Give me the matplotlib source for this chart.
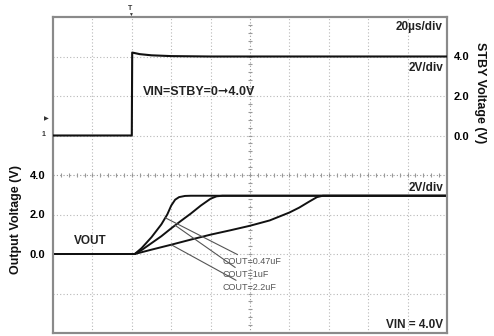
import numpy as np
import matplotlib
matplotlib.use('Agg')
import matplotlib.pyplot as plt

plt.rcParams['font.family'] = ['Liberation Sans', 'DejaVu Sans']

#%% Scope traces (time in us, voltage in V)
t_stby = [0, 40, 40.2, 44, 50, 60, 80, 200]
v_stby = [0, 0, 4.2, 4.12, 4.06, 4.02, 4.0, 4.0]

t_047 = [0, 41.5, 45, 50, 55, 58, 60, 62, 64, 67, 70, 200]
v_047 = [0, 0, 0.3, 0.85, 1.5, 2.0, 2.45, 2.75, 2.88, 2.94, 2.95, 2.95]

t_1u = [0, 41.5, 45, 50, 55, 60, 65, 70, 75, 80, 83, 86, 200]
v_1u = [0, 0, 0.2, 0.55, 0.9, 1.3, 1.68, 2.05, 2.45, 2.8, 2.92, 2.95, 2.95]

t_22u = [0, 41.5, 50, 60, 70, 80, 90, 100, 110, 120, 125, 130, 134, 137, 200]
v_22u = [0, 0, 0.22, 0.47, 0.73, 0.98, 1.2, 1.43, 1.7, 2.1, 2.35, 2.65, 2.88, 2.95, 2.95]

cout_labels = ['COUT=0.47uF', 'COUT=1uF', 'COUT=2.2uF']
leader_t = [57, 62, 60]
ytick_vals = [0, 2, 4]
ytick_text = ['0.0', '2.0', '4.0']

#%% Figure
fig = plt.figure(figsize=(4.94, 3.36), dpi=100)
ax = fig.add_axes([53/494, 3/336, 394/494, 316/336])
ax2 = ax.twinx()

ax.set_xlim(0, 200)
ax.set_ylim(-4, 12)
ax2.set_ylim(-10, 6)

# scope graticule
grid_kw = dict(color='#b8b8b8', lw=0.8, ls=(0, (1, 2)), zorder=1)
for x in np.arange(20, 200, 20):
    if x != 100:
        ax.axvline(x, **grid_kw)
for y in np.arange(-2, 12, 2):
    if y != 4:
        ax.axhline(y, **grid_kw)
ax.axvline(100, color='#999999', lw=0.8, ls=(0, (1, 2)), zorder=1)
ax.axhline(4, color='#999999', lw=0.8, ls=(0, (1, 2)), zorder=1)
ax.plot(np.arange(0, 201, 4), np.full(51, 4), '|', ms=3, color='#999999', mew=0.8, zorder=1)
ax.plot(np.full(41, 100), np.arange(-4, 12.01, 0.4), '_', ms=3, color='#999999', mew=0.8, zorder=1)

# traces
ax2.plot(t_stby, v_stby, color='#111111', lw=1.5, zorder=3)
ax.plot(t_047, v_047, color='#111111', lw=1.4, zorder=3)
ax.plot(t_1u, v_1u, color='#111111', lw=1.4, zorder=3)
ax.plot(t_22u, v_22u, color='#111111', lw=1.4, zorder=3)

# leader lines to the capacitor labels
for lab, lt, tt, vv, ly in zip(cout_labels, leader_t, [t_047, t_1u, t_22u], [v_047, v_1u, v_22u], [-0.4, -1.05, -1.7]):
    ax.annotate(lab, xy=(lt, np.interp(lt, tt, vv)), xytext=(86, ly),
                fontsize=6.5, color='#555555', va='center', ha='left',
                arrowprops=dict(arrowstyle='-', color='#555555', lw=0.8, shrinkA=0, shrinkB=0))

for a in (ax, ax2):
    for s in a.spines.values():
        s.set_color('#8a8a8a')
        s.set_linewidth(1.5)
ax.set_xticks([])
ax.set_yticks(ytick_vals)
ax.set_yticklabels(ytick_text, fontsize=8, fontweight='bold')
ax.tick_params(axis='y', length=0, pad=5.5)
ax2.set_yticks(ytick_vals)
ax2.set_yticklabels(ytick_text, fontsize=8, fontweight='bold')
ax2.tick_params(axis='y', length=0, pad=5)

# text on the screen
txt_kw = dict(fontsize=8.5, fontweight='bold', color='#222222')
fig.text(442/494, 1 - 27/336, '20µs/div', ha='right', va='center', **txt_kw)
fig.text(443/494, 1 - 68/336, '2V/div', ha='right', va='center', **txt_kw)
fig.text(443/494, 1 - 188/336, '2V/div', ha='right', va='center', **txt_kw)
fig.text(143/494, 1 - 92/336, 'VIN=STBY=0➞4.0V', ha='left', va='center',
         fontsize=9, fontweight='bold', color='#222222')
fig.text(74/494, 1 - 241/336, 'VOUT', ha='left', va='center', **txt_kw)
fig.text(443/494, 1 - 325/336, 'VIN = 4.0V', ha='right', va='center', **txt_kw)

# axis titles
fig.text(16/494, 1 - 220/336, 'Output Voltage (V)', rotation=90, ha='center', va='center',
         fontsize=9, fontweight='bold', color='#111111')
fig.text(480/494, 1 - 93/336, 'STBY Voltage (V)', rotation=270, ha='center', va='center',
         fontsize=9, fontweight='bold', color='#111111')

# trigger and channel markers
fig.text(130/494, 1 - 9/336, 'T', ha='center', va='center', fontsize=5, fontweight='bold', color='#333333')
fig.text(130/494, 1 - 14/336, '▼', ha='center', va='center', fontsize=3.5, color='#333333')
fig.text(46/494, 1 - 119/336, '▶', ha='center', va='center', fontsize=4.5, color='#333333')
fig.text(44/494, 1 - 134/336, '1', ha='center', va='center', fontsize=5, fontweight='bold', color='#333333')

fig.savefig('out.png', dpi=100)
